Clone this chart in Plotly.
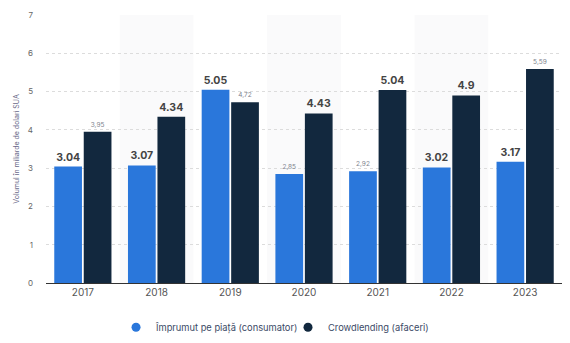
import plotly.graph_objects as go

years = ["2017", "2018", "2019", "2020", "2021", "2022", "2023"]
consumer = [3.04, 3.07, 5.05, 2.85, 2.92, 3.02, 3.17]
business = [3.95, 4.34, 4.72, 4.43, 5.04, 4.9, 5.59]
consumer_big = [True, True, True, False, False, True, True]
business_big = [False, True, False, True, True, True, False]
y_ticks = [0, 1, 2, 3, 4, 5, 6, 7]
names = ["Împrumut pe piață (consumator)", "Crowdlending (afaceri)"]

BLUE = "#2a77db"
DARK = "#12283e"


def labels(vals, big):
    out = []
    for v, b in zip(vals, big):
        s = f"<b>{v:g}</b>" if b else f"{v:.2f}".replace(".", ",")
        out.append(s)
    return out


def sizes(big):
    return [10.5 if b else 6.5 for b in big]


def colors(big):
    return ["#444444" if b else "#80848e" for b in big]


fig = go.Figure()
for vals, big, col, name in ((consumer, consumer_big, BLUE, names[0]),
                             (business, business_big, DARK, names[1])):
    fig.add_trace(go.Bar(
        x=years, y=vals, name=name, showlegend=False,
        marker=dict(color=col, line=dict(width=0)),
        text=labels(vals, big), textposition="outside", constraintext="none",
        textfont=dict(size=sizes(big), color=colors(big), family="Inter"),
        cliponaxis=False,
    ))
for col, name, lg in ((BLUE, names[0], "legend"), (DARK, names[1], "legend2")):
    fig.add_trace(go.Scatter(
        x=[None], y=[None], mode="markers", name=name, legend=lg,
        marker=dict(color=col, size=9, symbol="circle"),
    ))

for i in (1, 3, 5):
    fig.add_shape(type="rect", xref="x", yref="paper", x0=i - 0.5, x1=i + 0.5,
                  y0=0, y1=1, fillcolor="#fafafb", line=dict(width=0), layer="below")

leg_common = dict(orientation="h", y=-0.165, yanchor="middle", xanchor="left",
                  font=dict(size=9.3, color="#3b4a66"),
                  bgcolor="rgba(0,0,0,0)", itemwidth=30)

fig.update_layout(
    width=570, height=343,
    margin=dict(l=46, r=8, t=15, b=60, autoexpand=False),
    paper_bgcolor="white", plot_bgcolor="white",
    barmode="group", bargap=0.2, bargroupgap=0.06,
    font=dict(family="Inter", color="#555"),
    showlegend=True,
    legend=dict(x=0.1357, **leg_common),
    legend2=dict(x=0.469, **leg_common),
    xaxis=dict(showgrid=False, ticks="", tickfont=dict(size=10, color="#555"),
               showline=True, linecolor="#333", linewidth=1, range=[-0.5, 6.5],
               tickangle=0),
    yaxis=dict(range=[0, 7], tickvals=y_ticks, showgrid=True, gridcolor="#dcdcdc",
               griddash="dot", zeroline=False, tickfont=dict(size=8, color="#666"),
               ticklabelstandoff=12,
               title=dict(text="Volumul în miliarde de dolari SUA",
                          font=dict(size=7, color="#6a6a8a"), standoff=7)),
)
fig.write_html("out.html")
